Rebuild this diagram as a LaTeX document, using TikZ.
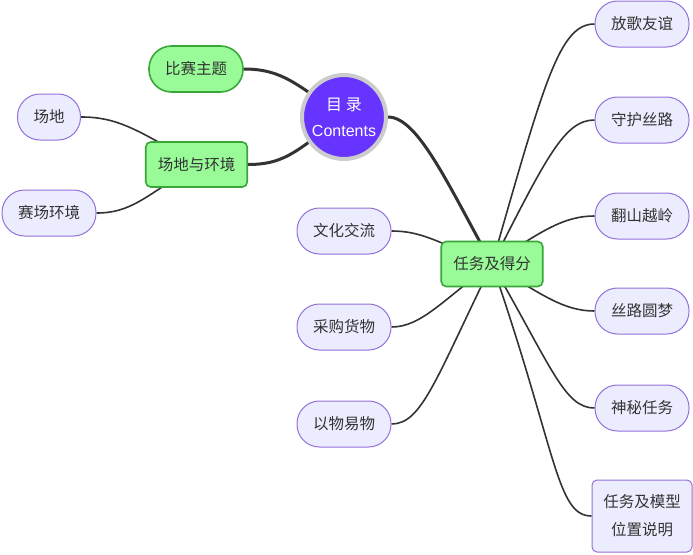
\documentclass[tikz,border=0pt]{standalone}
\usepackage{fontspec}
\setmainfont{Liberation Sans}
\newfontfamily\cjk{Noto Sans CJK SC}
\usetikzlibrary{backgrounds}

\definecolor{leaffill}{HTML}{ECECFF}
\definecolor{leafdraw}{HTML}{9370DB}
\definecolor{greenfill}{HTML}{98FB98}
\definecolor{greendraw}{HTML}{3AA63A}
\definecolor{rootfill}{HTML}{6633FF}
\definecolor{rootring}{HTML}{CCCCCC}
\definecolor{edgecol}{HTML}{333333}
\definecolor{txt}{HTML}{333333}

\begin{document}
\begin{tikzpicture}[x=1pt,y=1pt,
  every node/.style={font=\cjk\fontsize{15.5}{19}\selectfont, text=txt},
  pill/.style={draw=leafdraw, fill=leaffill, line width=1pt, rounded corners=22.5pt,
    minimum height=46pt, inner xsep=16pt, inner ysep=0pt},
  gpill/.style={pill, draw=greendraw, fill=greenfill, line width=1.6pt},
  gbox/.style={draw=greendraw, fill=greenfill, line width=1.6pt, rounded corners=5pt,
    minimum height=45pt, inner xsep=12pt, inner ysep=0pt},
  lbox/.style={draw=leafdraw, fill=leaffill, line width=1pt, rounded corners=5pt,
    minimum height=72pt, minimum width=100pt, inner sep=0pt, align=center,
    font=\cjk\fontsize{15.5}{28}\selectfont},
  rootnode/.style={circle, draw=rootring, fill=rootfill, line width=4pt,
    minimum size=84pt, inner sep=0pt, align=center, text=white,
    font=\fontsize{16}{26}\selectfont},
  thickedge/.style={draw=edgecol, line width=3pt},
  thinedge/.style={draw=edgecol, line width=1.6pt}
]
\useasboundingbox (0,0) rectangle (693,-554);

% nodes
\node[rootnode] (main) at (344,-117) {{\cjk 目 录}\\Contents};
\node[gpill] (topic) at (196,-69) {比赛主题};
\node[gbox] (env) at (196.5,-164.5) {场地与环境};
\node[pill] (site) at (49,-117) {场地};
\node[pill] (arena) at (49,-213) {赛场环境};
\node[gbox] (tasks) at (492,-264) {任务及得分};
\node[pill] (culture) at (344,-231) {文化交流};
\node[pill] (buy) at (344,-327) {采购货物};
\node[pill] (barter) at (344,-424) {以物易物};
\node[pill] (song) at (642,-24) {放歌友谊};
\node[pill] (guard) at (642,-120) {守护丝路};
\node[pill] (mount) at (642,-216) {翻山越岭};
\node[pill] (dream) at (642,-311) {丝路圆梦};
\node[pill] (secret) at (642,-408) {神秘任务};
\node[lbox] (model) at (642,-516) {任务及模型\\位置说明};

% connectors
\begin{pgfonlayer}{background}
\draw[thickedge] (main.center) to[out=146,in=0,out distance=55pt,in distance=40pt] (topic.east);
\draw[thickedge] (main.center) to[out=214,in=0,out distance=55pt,in distance=40pt] (env.east);
\draw[thickedge] (main.east) to[out=0,in=119,out distance=30pt,in distance=90pt] (tasks.center);

\draw[thinedge] (env.center) to[out=149,in=0,out distance=70pt,in distance=35pt] (site.east);
\draw[thinedge] (env.center) to[out=212,in=0,out distance=60pt,in distance=35pt] (arena.east);

\draw[thinedge] (tasks.center) to[out=158,in=0,out distance=60pt,in distance=30pt] (culture.east);
\draw[thinedge] (tasks.center) to[out=216,in=0,out distance=60pt,in distance=30pt] (buy.east);
\draw[thinedge] (tasks.center) to[out=244,in=0,out distance=130pt,in distance=30pt] (barter.east);

\draw[thinedge] (tasks.center) to[out=74,in=180,out distance=190pt,in distance=35pt] (song.west);
\draw[thinedge] (tasks.center) to[out=63,in=180,out distance=120pt,in distance=30pt] (guard.west);
\draw[thinedge] (tasks.center) to[out=34,in=180,out distance=60pt,in distance=30pt] (mount.west);
\draw[thinedge] (tasks.center) to[out=-32,in=180,out distance=60pt,in distance=30pt] (dream.west);
\draw[thinedge] (tasks.center) to[out=-60,in=180,out distance=120pt,in distance=30pt] (secret.west);
\draw[thinedge] (tasks.center) to[out=-71,in=180,out distance=200pt,in distance=35pt] (model.west);
\end{pgfonlayer}
\end{tikzpicture}
\end{document}
